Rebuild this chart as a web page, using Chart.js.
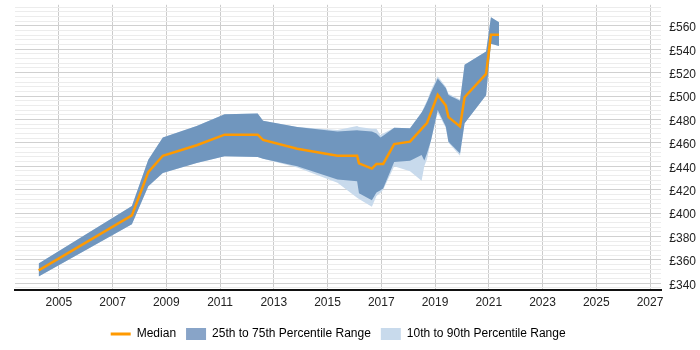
<!DOCTYPE html>
<html>
<head>
<meta charset="utf-8">
<script src="https://cdn.jsdelivr.net/npm/chart.js@4/dist/chart.umd.min.js"></script>
<style>
  body { margin: 0; background: #fff; }
  #wrap { width: 700px; height: 350px; }
</style>
</head>
<body>
<div id="wrap"><canvas id="grafico"></canvas></div>
<script>
// datas (ano decimal) e percentis
const datas = [2004.25, 2007.72, 2008.33, 2008.87, 2010.13, 2011.17, 2012.4, 2012.6, 2013.87, 2015.37,
  2016.1, 2016.17, 2016.65, 2016.82, 2016.97, 2017.07, 2017.48, 2018.07, 2018.5, 2018.6,
  2018.7, 2018.85, 2019.1, 2019.4, 2019.5, 2019.93, 2020.1, 2020.9, 2021.08, 2021.38];

const mediana = [351, 398, 435, 449, 458, 467, 467, 462.5, 455, 449,
  449, 442.5, 438, 442, 442, 442, 459, 461, 472, 474.5,
  477, 486, 501, 492, 482, 474, 499, 519, 552.5, 552.5];

const p75 = [357, 406, 445.5, 464.5, 474.5, 484.5, 485, 479, 473.5, 469.7,
  470.8, 470.5, 469.7, 468, 464.6, 466, 473, 472.5, 486, 490,
  495, 503, 515, 507, 501, 496, 526.8, 538, 567.3, 563];

const p25 = [345.7, 390.4, 423, 434.3, 442.8, 448.5, 448, 446.5, 440, 428.6,
  427.2, 417, 411, 417.5, 419.5, 421, 443.6, 444.7, 449.7, 445,
  451, 462, 488, 474, 461, 451, 476.7, 500.8, 544.7, 542.7];

const p90 = [357, 406, 445.5, 464.5, 474.5, 484.5, 485, 479, 473.5, 471,
  474.5, 473.5, 472, 472, 466.5, 468, 473, 472.5, 486, 491,
  496, 505, 517, 508, 502, 497, 526.8, 538, 567.3, 563];

const p10 = [345.7, 390.4, 423, 434.3, 442.8, 448.5, 448, 446.5, 439, 426,
  413, 412, 405.5, 414.5, 417.3, 420, 440, 435.7, 427.7, 440,
  446, 462, 486, 473, 460, 449, 476.7, 500.8, 544.7, 542.7];

const anosTicks = [2005, 2007, 2009, 2011, 2013, 2015, 2017, 2019, 2021, 2023, 2025, 2027];

// monta os pontos {x, y}
function pontos(valores) {
  return datas.map((d, i) => ({ x: d, y: valores[i] }));
}

const corMediana = '#FF9A00';
const corQuartil = '#7096BE';
const corDecil = '#C8DAEC';
const fonte = { family: 'Liberation Sans, Arial, sans-serif', size: 12 };

const ctx = document.getElementById('grafico').getContext('2d');
const meuGrafico = new Chart(ctx, {
  type: 'line',
  data: {
    datasets: [
      {
        label: 'Median',
        data: pontos(mediana),
        borderColor: corMediana,
        borderWidth: 2.5,
        pointRadius: 0,
        fill: false,
        tension: 0
      },
      {
        label: '25th to 75th Percentile Range',
        data: pontos(p75),
        borderWidth: 0,
        pointRadius: 0,
        backgroundColor: corQuartil,
        fill: 2
      },
      {
        label: 'p25',
        data: pontos(p25),
        borderWidth: 0,
        pointRadius: 0,
        fill: false
      },
      {
        label: '10th to 90th Percentile Range',
        data: pontos(p90),
        borderWidth: 0,
        pointRadius: 0,
        backgroundColor: corDecil,
        fill: 4
      },
      {
        label: 'p10',
        data: pontos(p10),
        borderWidth: 0,
        pointRadius: 0,
        fill: false
      }
    ]
  },
  options: {
    responsive: true,
    maintainAspectRatio: false,
    animation: false,
    layout: {
      padding: { left: 15, right: 4, top: 0, bottom: 0 }
    },
    scales: {
      x: {
        type: 'linear',
        min: 2003.37,
        max: 2027.42,
        afterBuildTicks: function (eixo) {
          eixo.ticks = anosTicks.map(v => ({ value: v }));
        },
        afterFit: function (eixo) {
          eixo.height += 2;
        },
        ticks: {
          maxRotation: 0,
          autoSkip: false,
          padding: 6,
          color: '#222',
          font: fonte,
          callback: v => String(v)
        },
        grid: {
          color: '#cccccc',
          drawTicks: false
        },
        border: { color: '#111', width: 2 }
      },
      y: {
        position: 'right',
        min: 334.6,
        max: 578,
        afterBuildTicks: function (eixo) {
          const t = [];
          for (let v = 336; v <= 576; v += 4) t.push({ value: v });
          eixo.ticks = t;
        },
        ticks: {
          autoSkip: false,
          padding: 0,
          labelOffset: 2,
          color: '#222',
          font: { family: fonte.family, size: 12, lineHeight: 0.8 },
          callback: v => (v % 20 === 0 ? '£' + v : '')
        },
        grid: {
          drawTicks: true,
          tickLength: 8,
          tickColor: 'rgba(0,0,0,0)',
          color: c => (c.tick && c.tick.value % 20 === 0 ? '#d0d0d0' : '#ececec')
        },
        border: { display: false }
      }
    },
    plugins: {
      tooltip: { enabled: false },
      legend: {
        display: true,
        position: 'bottom',
        fullSize: false,
        labels: {
          usePointStyle: true,
          pointStyleWidth: 20,
          boxHeight: 12,
          padding: 10,
          color: '#222',
          font: fonte,
          generateLabels: function () {
            return [
              { text: 'Median', pointStyle: 'line', strokeStyle: corMediana, fillStyle: corMediana, lineWidth: 3, datasetIndex: 0 },
              { text: '25th to 75th Percentile Range', pointStyle: 'rect', fillStyle: '#88A4C8', strokeStyle: '#88A4C8', lineWidth: 0, datasetIndex: 1 },
              { text: '10th to 90th Percentile Range', pointStyle: 'rect', fillStyle: corDecil, strokeStyle: corDecil, lineWidth: 0, datasetIndex: 3 }
            ];
          }
        }
      }
    }
  }
});
</script>
</body>
</html>
